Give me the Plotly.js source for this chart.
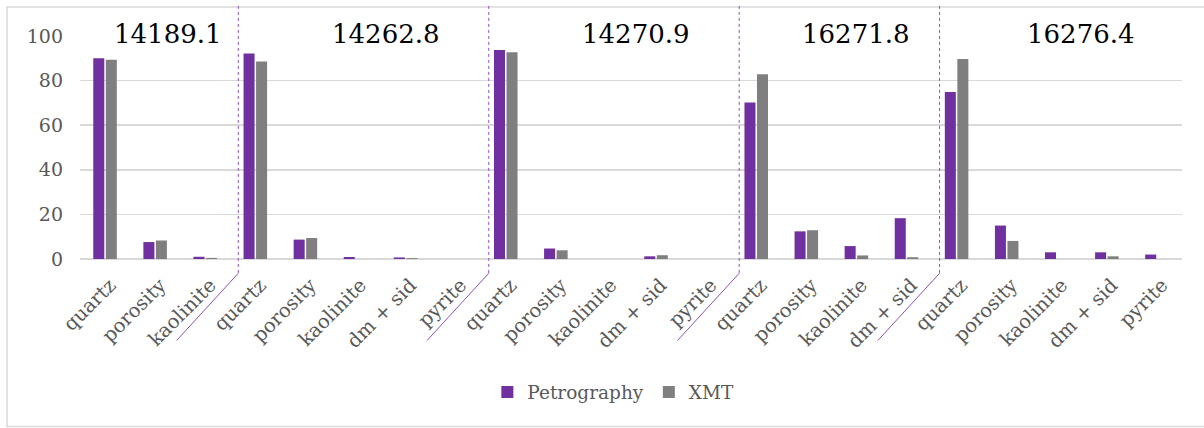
<!DOCTYPE html>
<html>
<head>
<meta charset="utf-8">
<script src="https://cdn.plot.ly/plotly-3.0.1.min.js"></script>
<style>html,body{margin:0;padding:0;background:#fff;}#chart{width:1204px;height:428px;}</style>
</head>
<body>
<div id="chart"></div>
<script>
// Depth groups and the minerals in each
const groupNames = ["14189.1", "14262.8", "14270.9", "16271.8", "16276.4"];
const groupMinerals = [
  ["quartz", "porosity", "kaolinite"],
  ["quartz", "porosity", "kaolinite", "dm + sid", "pyrite"],
  ["quartz", "porosity", "kaolinite", "dm + sid", "pyrite"],
  ["quartz", "porosity", "kaolinite", "dm + sid"],
  ["quartz", "porosity", "kaolinite", "dm + sid", "pyrite"]
];
// Values (%) per group, in the same order as the minerals
const petrography = [
  [90.0, 7.6, 1.0],
  [92.2, 8.7, 0.9, 0.7, 0],
  [93.7, 4.7, 0, 1.2, 0],
  [70.2, 12.4, 5.8, 18.3],
  [74.9, 15.0, 3.0, 3.0, 2.0]
];
const xmt = [
  [89.4, 8.3, 0.5],
  [88.6, 9.4, 0, 0.4, 0],
  [92.7, 3.9, 0, 1.7, 0],
  [82.9, 12.9, 1.6, 0.8],
  [89.7, 8.1, 0, 1.2, 0]
];
const yTicks = [0, 20, 40, 60, 80, 100];

// Flatten into a positional axis
const xs = [], tickText = [], pVals = [], xVals = [], groupStart = [];
let idx = 0;
groupMinerals.forEach((mins, g) => {
  groupStart.push(idx);
  mins.forEach((m, i) => {
    xs.push(idx); tickText.push(m);
    pVals.push(petrography[g][i]); xVals.push(xmt[g][i]);
    idx++;
  });
});
const nCats = idx;

const textColor = "#595959";
const serif = "DejaVu Serif";

const traces = [
  {type: "bar", name: "Petrography", x: xs, y: pVals, marker: {color: "#7030A0", line: {width: 0}}, hoverinfo: "x+y"},
  {type: "bar", name: "XMT", x: xs, y: xVals, marker: {color: "#7F7F7F", line: {width: 0}}, hoverinfo: "x+y"}
];

// Separator lines between groups (Excel multi-level axis dividers)
const shapes = [];
const sepOffset = 0.16;
for (let g = 1; g < groupStart.length; g++) {
  const sx = groupStart[g] - 0.5 + sepOffset;
  shapes.push({type: "line", xref: "x", yref: "paper", x0: sx, x1: sx, y0: 1.135, y1: -0.064,
    line: {color: "#9150c0", width: 1, dash: "dot"}});
  shapes.push({type: "line", xref: "x", yref: "paper", x0: sx, x1: sx - 1.23, y0: -0.064, y1: -0.365,
    line: {color: "#9150c0", width: 1}});
}
// Chart border
shapes.push({type: "rect", xref: "paper", yref: "paper", x0: -0.0662, x1: 1.03, y0: -0.751, y1: 1.130,
  line: {color: "#D9D9D9", width: 1.5}, fillcolor: "rgba(0,0,0,0)", layer: "below"});

// Group label positions (text boxes placed over each group)
const groupLabelX = [1.26, 5.61, 10.59, 14.99, 19.48];
const annotations = groupNames.map((n, g) => ({
  text: n, x: groupLabelX[g], xref: "x", y: 1.01, yref: "paper", yanchor: "middle",
  showarrow: false, font: {family: serif, size: 26, color: "#000000"}
}));

const layout = {
  width: 1204, height: 428,
  margin: {l: 80, r: 22, t: 36, b: 169.3},
  paper_bgcolor: "#ffffff", plot_bgcolor: "#ffffff",
  font: {family: serif, color: textColor},
  barmode: "group", bargap: 0.5, bargroupgap: 0.12,
  showlegend: true,
  legend: {orientation: "h", x: 0.484, xanchor: "center", y: -0.599, yanchor: "middle",
    font: {family: serif, size: 18.5, color: textColor}, itemwidth: 30},
  xaxis: {range: [-0.5, nCats - 0.5], tickmode: "array", tickvals: xs, ticktext: tickText,
    tickangle: -45, showgrid: false, zeroline: false, showline: false, ticks: "",
    ticklabelstandoff: 10, ticklabelshift: 5,
    tickfont: {family: serif, size: 19.5, color: textColor}, fixedrange: true},
  yaxis: {range: [0, 100], tickmode: "array", tickvals: yTicks, showgrid: true, gridcolor: "#D9D9D9",
    gridwidth: 1.5, zeroline: true, zerolinecolor: "#D9D9D9", zerolinewidth: 1.5, showline: false,
    ticks: "", ticklabelstandoff: 16, tickfont: {family: serif, size: 19, color: textColor}, fixedrange: true},
  shapes: shapes, annotations: annotations
};

Plotly.newPlot("chart", traces, layout, {displayModeBar: false, staticPlot: true});
</script>
</body>
</html>
